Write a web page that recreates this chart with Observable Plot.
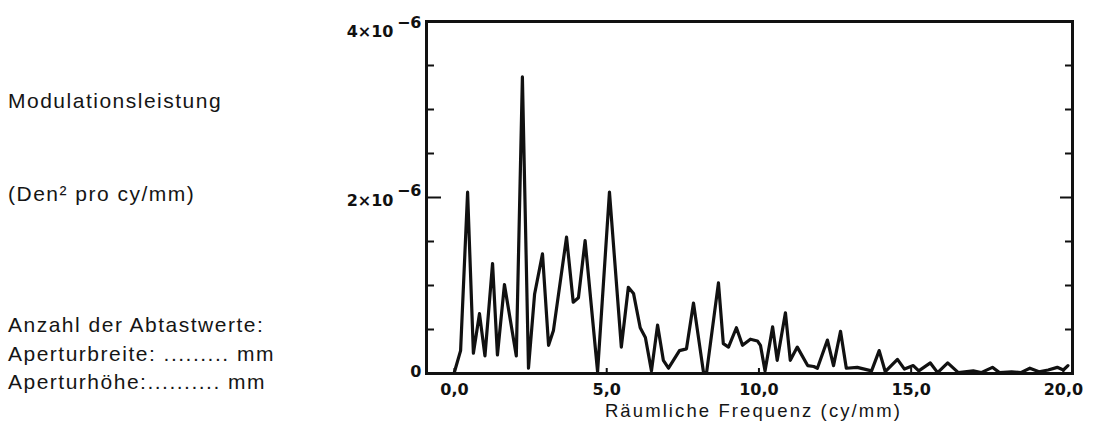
<!DOCTYPE html>
<html><head><meta charset="utf-8">
<script src="https://cdn.jsdelivr.net/npm/d3@7"></script>
<script src="https://cdn.jsdelivr.net/npm/@observablehq/plot@0.6"></script>
<style>
body{margin:0;background:#fff;}
#wrap{position:relative;width:1096px;height:432px;overflow:hidden;background:#fff;}
#wrap svg{position:absolute;left:0;top:0;}
.lt{position:absolute;left:8px;font-family:"Liberation Sans",Arial,sans-serif;font-size:21px;letter-spacing:1.5px;color:#151515;white-space:nowrap;line-height:1;}
</style></head><body>
<div id="wrap"></div>
<script>
// Spatial frequency (cy/mm)
const freq = [0.0,0.2,0.43,0.62,0.82,1.0,1.25,1.41,1.64,2.03,2.23,2.43,2.63,2.89,3.09,3.25,3.68,3.9,4.07,4.29,4.7,5.09,5.48,5.71,5.88,6.1,6.27,6.47,6.67,6.86,7.03,7.39,7.62,7.85,8.18,8.28,8.67,8.83,9.0,9.26,9.46,9.72,9.95,10.05,10.2,10.45,10.6,10.87,11.03,11.26,11.6,11.8,11.92,12.25,12.45,12.68,12.87,13.23,13.7,13.95,14.15,14.55,14.78,15.07,15.25,15.63,15.87,16.2,16.55,17.04,17.3,17.67,17.9,18.3,18.6,18.9,19.2,19.5,19.8,20.0,20.15];
// Modulation power (×10^-6 Den² pro cy/mm)
const power = [0.02,0.26,2.06,0.23,0.68,0.2,1.25,0.21,1.01,0.2,3.37,0.06,0.9,1.36,0.32,0.49,1.55,0.81,0.86,1.51,0.02,2.06,0.3,0.98,0.91,0.52,0.41,0.03,0.55,0.15,0.06,0.26,0.28,0.8,0.01,0.01,1.03,0.34,0.3,0.52,0.32,0.39,0.37,0.32,0.03,0.53,0.15,0.69,0.15,0.3,0.09,0.08,0.06,0.38,0.09,0.48,0.06,0.07,0.03,0.26,0.02,0.16,0.05,0.09,0.03,0.12,0.01,0.12,0.01,0.03,0.01,0.07,0.01,0.02,0.01,0.06,0.02,0.04,0.07,0.04,0.09];

const xTicks = [0,5,10,15,20];
const xTickLabels = ["0,0","5,0","10,0","15,0","20,0"];
const yMinorTicks = [0.5,1,1.5,2.5,3,3.5];
const yMajorTicks = [2];
const yZeroLabel = ["0"];
const yMidValue = [2], yTopValue = [4];
const yBase = "×10";
const yExp = "−6";
const xAxisLabel = "Räumliche Frequenz (cy/mm)";
const leftLabels = ["Modulationsleistung","(Den² pro cy/mm)","Anzahl der Abtastwerte:","Aperturbreite: ......... mm","Aperturhöhe:.......... mm"];
const leftTops = [90,183,314,343,371];

const data = freq.map((f,i)=>({f, p: power[i]}));
const W=1096,H=432,mL=426,mR=24,mT=21,mB=59;
const innerW=W-mL-mR, innerH=H-mT-mB;
const ink="#111";
const tickFont="DejaVu Sans";
const tf = {fontWeight:"bold",fontSize:16,fontFamily:tickFont,fill:ink};

const chart = Plot.plot({
  width:W, height:H, marginLeft:mL, marginRight:mR, marginTop:mT, marginBottom:mB,
  x:{domain:[-0.92,20.3], axis:null},
  y:{domain:[0,4], axis:null},
  style:{background:"transparent"},
  marks:[
    Plot.ruleY(yMinorTicks,{stroke:ink,strokeWidth:2,insetRight:innerW-8}),
    Plot.ruleY(yMajorTicks,{stroke:ink,strokeWidth:2,insetRight:innerW-15}),
    Plot.ruleY(yMinorTicks,{stroke:ink,strokeWidth:2,insetLeft:innerW-7}),
    Plot.ruleY(yMajorTicks,{stroke:ink,strokeWidth:2,insetLeft:innerW-12}),
    Plot.ruleX(xTicks,{stroke:ink,strokeWidth:2,insetTop:innerH-5}),
    Plot.line(data,{x:"f",y:"p",stroke:ink,strokeWidth:3.2,strokeLinejoin:"round"}),
    Plot.frame({stroke:ink,strokeWidth:3}),
    Plot.text(xTicks,{x:d=>d,text:(d,i)=>xTickLabels[i],frameAnchor:"bottom",dy:21,...tf}),
    Plot.text([xAxisLabel],{text:d=>d,frameAnchor:"bottom",dx:4,dy:43,fontSize:18.5,fontFamily:"Liberation Sans",fill:"#151515"}),
    Plot.text(yZeroLabel,{y:()=>0,text:d=>d,frameAnchor:"left",textAnchor:"end",dx:-5,dy:-2,...tf}),
    Plot.text(yMidValue,{y:d=>d,text:d=>d+yBase,frameAnchor:"left",textAnchor:"end",dx:-33,dy:3,...tf}),
    Plot.text(yMidValue,{y:d=>d,text:()=>yExp,frameAnchor:"left",textAnchor:"end",dx:-5,dy:-7,...tf}),
    Plot.text(yTopValue,{y:d=>d,text:d=>d+yBase,frameAnchor:"left",textAnchor:"end",dx:-33,dy:10,...tf}),
    Plot.text(yTopValue,{y:d=>d,text:()=>yExp,frameAnchor:"left",textAnchor:"end",dx:-5,dy:1,...tf})
  ]
});
d3.select(chart).selectAll("text").filter(function(){return this.textContent===xAxisLabel;})
  .style("letter-spacing","2.1px");
const wrap=document.getElementById("wrap");
wrap.appendChild(chart);
leftLabels.forEach((t,i)=>{
  const d=document.createElement("div");
  d.className="lt"; d.style.top=leftTops[i]+"px"; d.textContent=t;
  wrap.appendChild(d);
});
</script>
</body></html>
